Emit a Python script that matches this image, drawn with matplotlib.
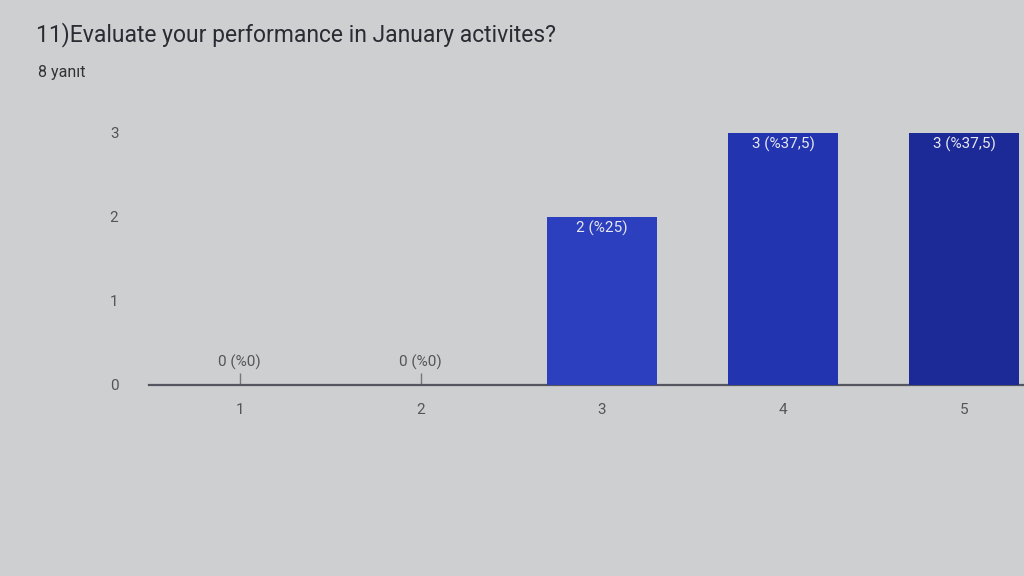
import numpy as np
import matplotlib
matplotlib.use("Agg")
import matplotlib.pyplot as plt

# data
categories = [1, 2, 3, 4, 5]
counts = [0, 0, 2, 3, 3]
labels = ["0 (%0)", "0 (%0)", "2 (%25)", "3 (%37,5)", "3 (%37,5)"]
yticks = [0, 1, 2, 3]

title = "11)Evaluate your performance in January activites?"
subtitle = "8 yanıt"

bg = "#cdcfd1"
bar_colors = ["#2b3fbf", "#2b3fbf", "#2b3fbf", "#2234b0", "#1c2a98"]

plt.rcParams['font.family'] = ['Roboto', 'DejaVu Sans']

fig = plt.figure(figsize=(10.24, 5.76), dpi=100, facecolor=bg)
fig.text(36/1024, 1-35/576, title, fontsize=16.5, color="#2b2b33", va="center", ha="left")
fig.text(38/1024, 1-73/576, subtitle, fontsize=11.5, color="#333333", va="center", ha="left")

ax = fig.add_axes([149/1024, 191/576, 1-149/1024, 252/576])
ax.set_facecolor(bg)

bars = ax.bar(categories, counts, width=0.61, color=bar_colors, zorder=3)

for b, v, lab in zip(bars, counts, labels):
    x = b.get_x() + b.get_width()/2
    if v > 0:
        ax.annotate(lab, (x, v), xytext=(0, -3), textcoords="offset points",
                    ha="center", va="top", color="#e8e8f0", fontsize=11, zorder=4)
    else:
        ax.annotate(lab, (x, v), xytext=(0, 11), textcoords="offset points",
                    ha="center", va="bottom", color="#555555", fontsize=11, zorder=4)

ax.set_xlim(0.5, 5.33)
ax.set_ylim(0, 3)
ax.set_xticks(categories)
ax.set_xticklabels([str(c) for c in categories])
ax.set_yticks(yticks)
ax.set_yticklabels([str(t) for t in yticks])
ax.set_axisbelow(True)
ax.tick_params(axis="x", direction="in", length=9, width=1, color="#777777",
               pad=13, labelsize=11, labelcolor="#555555")
ax.tick_params(axis="y", length=0, pad=22, labelsize=11, labelcolor="#555555")

for s in ["top", "right", "left"]:
    ax.spines[s].set_visible(False)
ax.spines["bottom"].set_color("#555560")
ax.spines["bottom"].set_linewidth(1.6)

fig.savefig("out.png", dpi=100, facecolor=bg)
